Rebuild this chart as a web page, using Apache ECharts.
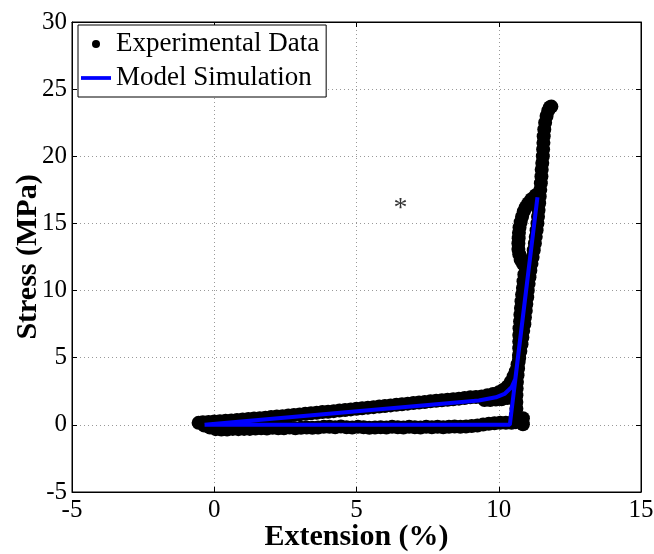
<!DOCTYPE html>
<html>
<head>
<meta charset="utf-8">
<script src="https://cdn.jsdelivr.net/npm/echarts@6/dist/echarts.min.js"></script>
<style>html,body{margin:0;padding:0;background:#fff}#c{width:654px;height:554px}</style>
</head>
<body>
<div id="c"></div>
<script>
var xTicks = [-5, 0, 5, 10, 15];
var yTicks = [-5, 0, 5, 10, 15, 20, 25, 30];

// Experimental data: loading branch along upper band
var expLoading = [[-0.55,0.15],[-0.4,0.2],[-0.2,0.22],[0,0.25],[0.2,0.27],[0.4,0.3],[0.6,0.33],[0.8,0.37],[1.0,0.4],[1.2,0.44],[1.4,0.47],[1.6,0.5],[1.8,0.53],[2.0,0.58],[2.2,0.62],[2.4,0.65],[2.6,0.7],[2.8,0.74],[3.0,0.78],[3.2,0.82],[3.4,0.86],[3.6,0.9],[3.8,0.95],[4.0,0.98],[4.2,1.02],[4.4,1.07],[4.6,1.1],[4.8,1.15],[5.0,1.2],[5.2,1.24],[5.4,1.28],[5.6,1.32],[5.8,1.37],[6.0,1.4],[6.2,1.45],[6.4,1.5],[6.6,1.54],[6.8,1.58],[7.0,1.62],[7.2,1.66],[7.4,1.7],[7.6,1.75],[7.8,1.8],[8.0,1.83],[8.2,1.87],[8.4,1.9],[8.6,1.95],[8.8,2.0],[9.0,2.05],[9.2,2.08],[9.4,2.12],[9.6,2.2],[9.8,2.3],[10.0,2.42],[10.15,2.6],[10.3,2.85],[10.42,3.2],[10.52,3.6],[9.5,1.85],[9.7,1.85],[9.9,1.88],[10.1,1.9],[10.3,2.0]];
// Experimental data: steep rise to peak
var expRise = [[10.6,4.0],[10.66,4.5],[10.72,5.0],[10.76,5.5],[10.8,6.0],[10.83,6.5],[10.86,7.0],[10.9,7.5],[10.92,8.0],[10.95,8.5],[10.97,9.0],[11.0,9.5],[11.02,10.0],[11.05,10.5],[11.08,11.0],[11.11,11.5],[11.15,12.0],[11.19,12.5],[11.23,13.0],[11.27,13.5],[11.3,14.0],[11.33,14.5],[11.36,15.0],[11.38,15.5],[11.4,16.0],[11.42,16.5],[11.44,17.0],[11.46,17.5],[11.48,18.0],[11.5,18.5],[11.51,19.0],[11.53,19.5],[11.55,20.0],[11.56,20.5],[11.57,21.0],[11.58,21.5],[11.6,22.0],[11.63,22.5],[11.68,23.0],[11.74,23.4],[11.8,23.65],[11.85,23.7]];
// Experimental data: left bulge between 12 and 17 MPa
var expBulge = [[11.3,17.1],[11.15,16.8],[11.04,16.5],[10.95,16.2],[10.88,15.9],[10.82,15.5],[10.77,15.1],[10.73,14.7],[10.71,14.3],[10.7,13.9],[10.69,13.5],[10.69,13.1],[10.72,12.7],[10.77,12.3],[10.85,12.0],[10.95,11.7]];
// Experimental data: unloading down and back along zero
var expUnloading = [[10.9,11.2],[10.87,10.7],[10.85,10.2],[10.82,9.7],[10.8,9.2],[10.78,8.7],[10.76,8.2],[10.75,7.7],[10.73,7.2],[10.72,6.7],[10.72,6.2],[10.72,5.7],[10.71,5.2],[10.7,4.7],[10.68,4.2],[10.66,3.7],[10.64,3.2],[10.63,2.7],[10.62,2.2],[10.62,1.7],[10.62,1.2],[10.6,0.7],[10.6,0.2],[10.85,0.05],[10.85,0.5],[10.45,0.15],[10.25,0.15],[10.05,0.15],[9.85,0.12],[9.65,0.08],[9.45,0.02],[9.25,-0.05],[9.05,-0.08],[8.85,-0.12],[8.65,-0.15],[8.45,-0.12],[8.25,-0.15],[8.05,-0.18],[7.85,-0.15],[7.65,-0.18],[7.45,-0.15],[7.25,-0.2],[7.05,-0.18],[6.85,-0.15],[6.65,-0.2],[6.45,-0.18],[6.25,-0.15],[6.05,-0.2],[5.85,-0.18],[5.65,-0.2],[5.45,-0.22],[5.25,-0.18],[5.05,-0.15],[4.85,-0.2],[4.65,-0.18],[4.45,-0.12],[4.25,-0.18],[4.05,-0.15],[3.85,-0.15],[3.65,-0.2],[3.45,-0.22],[3.25,-0.2],[3.05,-0.22],[2.85,-0.25],[2.65,-0.2],[2.45,-0.25],[2.25,-0.25],[2.05,-0.22],[1.85,-0.28],[1.65,-0.25],[1.45,-0.28],[1.25,-0.3],[1.05,-0.3],[0.85,-0.32],[0.65,-0.3],[0.45,-0.35],[0.25,-0.35],[0.05,-0.32],[-0.15,-0.2],[-0.35,-0.05]];

// Model simulation path
var modelX = [-0.34, 9.3, 9.9, 10.2, 10.45, 10.58, 11.36, 10.39, -0.34];
var modelY = [0, 1.81, 2.05, 2.3, 2.8, 3.4, 16.95, 0, 0];

var annotation = [[6.55, 16.1]];

var expData = expLoading.concat(expRise, expBulge, expUnloading);
var modelData = modelX.map(function (x, i) { return [x, modelY[i]]; });

var FONT = '"Liberation Serif", "Times New Roman", serif';
var tickStyle = {show: true, inside: true, length: 5, lineStyle: {color: '#000'}};
var gridLine = {show: true, lineStyle: {type: [1, 3], color: '#999', width: 1}};
var chart = echarts.init(document.getElementById('c'), null, {renderer: 'canvas'});
chart.setOption({
  animation: false,
  backgroundColor: '#fff',
  grid: {left: 72, right: 13, top: 22, bottom: 62, outerBoundsMode: 'none', containLabel: false,
         show: true, borderColor: '#000', borderWidth: 1, backgroundColor: 'transparent'},
  xAxis: [{
    type: 'value', min: xTicks[0], max: xTicks[xTicks.length - 1], interval: 5,
    name: 'Extension (%)', nameLocation: 'middle', nameGap: 30, nameMoveOverlap: false,
    nameTextStyle: {fontFamily: FONT, fontSize: 30, fontWeight: 'bold', color: '#000'},
    axisLine: {show: true, onZero: false, lineStyle: {color: '#000', width: 1}},
    axisTick: tickStyle,
    axisLabel: {fontFamily: FONT, fontSize: 25, color: '#000', margin: 6},
    splitLine: gridLine
  }, {
    type: 'value', position: 'top', min: xTicks[0], max: xTicks[xTicks.length - 1], interval: 5,
    axisLine: {show: true, onZero: false, lineStyle: {color: '#000', width: 1}},
    axisTick: tickStyle, axisLabel: {show: false}, splitLine: {show: false}
  }],
  yAxis: [{
    type: 'value', min: yTicks[0], max: yTicks[yTicks.length - 1], interval: 5,
    name: 'Stress (MPa)', nameLocation: 'middle', nameGap: 29, nameMoveOverlap: false,
    nameTextStyle: {fontFamily: FONT, fontSize: 30, fontWeight: 'bold', color: '#000'},
    axisLine: {show: true, onZero: false, lineStyle: {color: '#000', width: 1}},
    axisTick: tickStyle,
    axisLabel: {fontFamily: FONT, fontSize: 25, color: '#000', margin: 5},
    splitLine: gridLine
  }, {
    type: 'value', position: 'right', min: yTicks[0], max: yTicks[yTicks.length - 1], interval: 5,
    axisLine: {show: true, onZero: false, lineStyle: {color: '#000', width: 1}},
    axisTick: tickStyle, axisLabel: {show: false}, splitLine: {show: false}
  }],
  legend: {
    orient: 'vertical', left: 78, top: 25,
    padding: [5, 7, 5, 3], itemGap: 6, itemWidth: 30, itemHeight: 8,
    backgroundColor: '#fff', borderColor: '#000', borderWidth: 1, borderRadius: 0,
    textStyle: {fontFamily: FONT, fontSize: 27, color: '#000', lineHeight: 28},
    data: [
      {name: 'Experimental Data', icon: 'circle', itemStyle: {color: '#000'}},
      {name: 'Model Simulation', icon: 'path://M0,0L32,0L32,4L0,4Z', itemStyle: {color: '#0000ff'}}
    ]
  },
  series: [
    {
      name: 'Experimental Data', type: 'scatter', data: expData,
      symbol: 'circle', symbolSize: 14,
      itemStyle: {color: '#000', opacity: 1, borderWidth: 0}, z: 2
    },
    {
      name: 'Model Simulation', type: 'line', data: modelData,
      symbol: 'none', smooth: false,
      lineStyle: {color: '#0000ff', width: 4}, itemStyle: {color: '#0000ff'}, z: 3
    },
    {
      name: 'note', type: 'scatter', data: annotation, symbolSize: 0,
      label: {show: true, formatter: '*', position: 'inside', fontFamily: FONT, fontSize: 28, color: '#000'},
      z: 4
    }
  ]
});
</script>
</body>
</html>
